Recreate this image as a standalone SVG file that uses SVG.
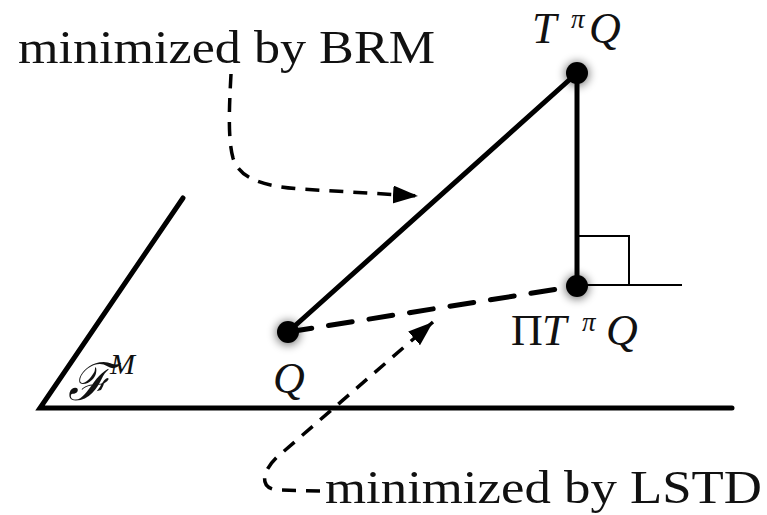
<svg xmlns="http://www.w3.org/2000/svg" width="767" height="515" viewBox="0 0 767 515">
<style>
.lbl{font-family:"Liberation Serif","DejaVu Serif",serif;font-size:46px;fill:#111}
.m{font-family:"Liberation Serif","DejaVu Serif",serif;font-style:italic;font-size:44px;fill:#111}
.up{font-family:"Liberation Serif","DejaVu Serif",serif;font-size:44px;fill:#111}
.sup{font-family:"Liberation Serif","DejaVu Serif",serif;font-style:italic;font-size:27px;fill:#111}
.thick{stroke:#000;stroke-width:5;fill:none;stroke-linecap:round}
.thin{stroke:#000;stroke-width:2;fill:none}
.dash{stroke:#000;stroke-width:3.5;fill:none;stroke-dasharray:14 10}
.dot{fill:#000}
.glow{fill:#000;opacity:0.55;filter:url(#blur)}
</style>
<defs>
<filter id="blur" x="-1" y="-1" width="3" height="3"><feGaussianBlur stdDeviation="5"/></filter>
<marker id="arr" markerUnits="userSpaceOnUse" markerWidth="26" markerHeight="20" refX="25" refY="9" orient="auto">
<path d="M0,0 L25,9 L0,18 z" fill="#000"/>
</marker>
</defs>
<g id="plane">
<polyline class="thick" points="183,198 40,408 732,408"/>
<text x="68" y="400" class="m" style="font-size:52px">ℱ</text>
<text x="110" y="374" class="sup" style="font-size:30px">M</text>
</g>
<g id="connectors">
<line class="thick" x1="288" y1="332" x2="577" y2="73"/>
<line class="thick" x1="577" y1="73" x2="577" y2="286"/>
<line class="thick" x1="288" y1="332" x2="577" y2="286" stroke-dasharray="24 17" stroke-linecap="butt"/>
<polyline class="thin" points="577,236 629,236 629,285"/>
<line class="thin" x1="577" y1="285" x2="682" y2="285"/>
<path class="dash" d="M231,74 C229,110 228,140 233,158 C240,180 265,186 300,189 L418,196" marker-end="url(#arr)"/>
<path class="dash" d="M320,491 L280,490 C258,490 260,470 283,452 L433,322" marker-end="url(#arr)"/>
</g>
<g id="node-TQ">
<circle class="glow" cx="577" cy="74" r="12"/>
<circle class="dot" cx="577" cy="73" r="11"/>
<text x="532" y="43" class="m">T</text>
<text x="571" y="28" class="sup">π</text>
<text x="589" y="43" class="m">Q</text>
</g>
<g id="node-PiTQ">
<circle class="glow" cx="577" cy="287" r="12"/>
<circle class="dot" cx="577" cy="286" r="11"/>
<text x="511" y="345" class="up">Π</text>
<text x="542" y="345" class="m">T</text>
<text x="582" y="331" class="sup">π</text>
<text x="606" y="345" class="m">Q</text>
</g>
<g id="node-Q">
<circle class="glow" cx="288" cy="333" r="12"/>
<circle class="dot" cx="288" cy="332" r="11"/>
<text x="273" y="393" class="m">Q</text>
</g>
<g id="label-BRM">
<text x="18" y="63" class="lbl" textLength="417" lengthAdjust="spacingAndGlyphs">minimized by BRM</text>
</g>
<g id="label-LSTD">
<text x="325" y="503" class="lbl" textLength="437" lengthAdjust="spacingAndGlyphs">minimized by LSTD</text>
</g>
</svg>
